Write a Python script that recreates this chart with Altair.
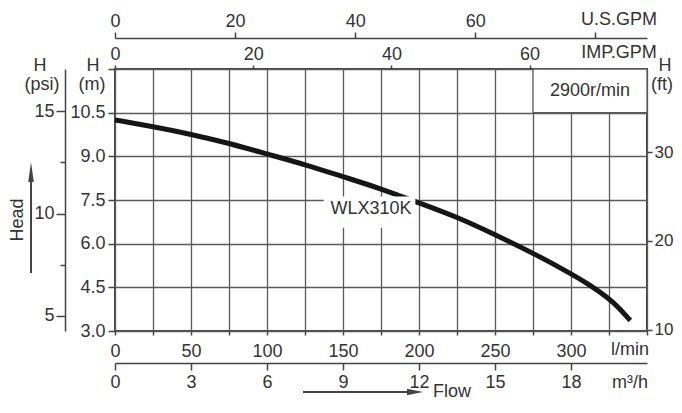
import altair as alt
import pandas as pd

# ---- data ----
flow_lpm = [0, 25, 50, 75, 100, 125, 150, 175, 200, 225, 250, 275, 300, 312.5, 325, 331.4, 339]
head_m = [10.25, 10.02, 9.76, 9.45, 9.08, 8.72, 8.30, 7.89, 7.40, 6.92, 6.31, 5.68, 4.97, 4.58, 4.12, 3.80, 3.36]

lpm_ticks = list(range(0, 351, 25))
head_m_ticks = [3.0, 4.5, 6.0, 7.5, 9.0, 10.5, 12.0]
head_ft_ticks = [10, 20, 30]
head_psi_major = [5, 10, 15]
head_psi_minor = [7.5, 12.5]
imp_gpm_ticks = [0, 20, 40, 60]
us_gpm_ticks = [0, 20, 40, 60, 80]
m3h_ticks = [0, 3, 6, 9, 12, 15, 18]

speed_text = ["2900r/min"]
speed_box_x = [275]
speed_box_x2 = [350]
speed_box_y = [10.5]
speed_box_y2 = [12.0]
speed_text_x = [312.5]
speed_text_y = [11.25]

model_text = ["WLX310K"]
model_box_x = [137.3]
model_box_x2 = [197.6]
model_box_y = [6.55]
model_box_y2 = [7.62]
model_text_x = [168.4]
model_text_y = [7.19]

FLOW_MAX = 350.0
H_MIN, H_MAX = 3.0, 12.0
M_TO_FT = 1 / 0.3048
M_TO_PSI = 1.4223
LPM_PER_IMP = 4.546
LPM_PER_US = 3.95
LPM_PER_M3H = 1000 / 60

W, H = 532, 262
FONT = "Liberation Sans"
TXT = "#333333"
LINE = "#444444"
GRID = "#5a5a5a"
FS = 18

xs = alt.Scale(domain=[0, FLOW_MAX], nice=False, zero=False)
ys = alt.Scale(domain=[H_MIN, H_MAX], nice=False, zero=False)

grid_x_axis = alt.Axis(values=lpm_ticks, grid=True, domain=False, tickSize=4, labelPadding=7,
                       labelFlush=False, labelOverlap=False, title=None,
                       labelExpr="(datum.value % 50 == 0 && datum.value <= 300) ? datum.label : ''")
grid_y_axis = alt.Axis(values=head_m_ticks, grid=True, domain=False, tickSize=7, labelPadding=3,
                       labelOverlap=False, title=None,
                       labelExpr="datum.value > 11 ? '' : format(datum.value, '.1f')")


def X(field):
    return alt.X(field, type="quantitative", scale=xs, axis=grid_x_axis)


def Y(field):
    return alt.Y(field, type="quantitative", scale=ys, axis=grid_y_axis)


curve_df = pd.DataFrame({"q": flow_lpm, "h": head_m})
curve = alt.Chart(curve_df).mark_line(color="#161616", strokeWidth=5, interpolate="basis").encode(
    x=X("q"), y=Y("h"))

speed_df = pd.DataFrame({"x": speed_box_x, "x2": speed_box_x2, "y": speed_box_y, "y2": speed_box_y2,
                         "tx": speed_text_x, "ty": speed_text_y, "t": speed_text})
speed_box = alt.Chart(speed_df).mark_rect(fill="white", stroke=GRID, strokeWidth=1.3).encode(
    x=X("x"), x2="x2", y=Y("y"), y2="y2")
speed_lbl = alt.Chart(speed_df).mark_text(font=FONT, fontSize=FS, color=TXT).encode(
    x=X("tx"), y=Y("ty"), text="t:N")

model_df = pd.DataFrame({"x": model_box_x, "x2": model_box_x2, "y": model_box_y, "y2": model_box_y2,
                         "tx": model_text_x, "ty": model_text_y, "t": model_text})
model_box = alt.Chart(model_df).mark_rect(fill="white").encode(
    x=X("x"), x2="x2", y=Y("y"), y2="y2")
model_lbl = alt.Chart(model_df).mark_text(font=FONT, fontSize=FS, color=TXT).encode(
    x=X("tx"), y=Y("ty"), text="t:N")

main = alt.layer(curve, speed_box, model_box, model_lbl, speed_lbl)


def x_axis_layer(vals, dmax, axis):
    return alt.Chart(pd.DataFrame({"v": vals})).mark_point(opacity=0).encode(
        x=alt.X("v:Q", scale=alt.Scale(domain=[0, dmax], nice=False, zero=False), axis=axis))


def y_axis_layer(vals, dmin, dmax, axis):
    return alt.Chart(pd.DataFrame({"v": vals})).mark_point(opacity=0).encode(
        y=alt.Y("v:Q", scale=alt.Scale(domain=[dmin, dmax], nice=False, zero=False), axis=axis))


ft_layer = y_axis_layer(head_ft_ticks, H_MIN * M_TO_FT, H_MAX * M_TO_FT,
                        alt.Axis(orient="right", values=head_ft_ticks, domain=False, grid=False,
                                 tickSize=5, labelPadding=2, labelFontSize=17, title=None,
                                 labelOverlap=False))
psi_layer = y_axis_layer(head_psi_major, H_MIN * M_TO_PSI, H_MAX * M_TO_PSI,
                         alt.Axis(orient="left", offset=50, values=head_psi_major, domain=True, grid=False,
                                  tickSize=9, labelPadding=2, title=None, labelOverlap=False))
psi_minor = y_axis_layer(head_psi_minor, H_MIN * M_TO_PSI, H_MAX * M_TO_PSI,
                         alt.Axis(orient="left", offset=50, values=head_psi_minor, domain=False, grid=False,
                                  tickSize=5, labels=False, title=None))
imp_layer = x_axis_layer(imp_gpm_ticks, FLOW_MAX / LPM_PER_IMP,
                         alt.Axis(orient="top", values=imp_gpm_ticks, domain=False, grid=False,
                                  tickSize=4, labelPadding=2, title=None, labelFlush=False, labelOverlap=False))
us_layer = x_axis_layer(us_gpm_ticks, FLOW_MAX / LPM_PER_US,
                        alt.Axis(orient="top", offset=31, values=us_gpm_ticks, domain=True, grid=False,
                                 tickSize=6, labelPadding=2, title=None, labelFlush=False, labelOverlap=False,
                                 labelExpr="datum.value >= 80 ? '' : datum.label"))
m3h_layer = x_axis_layer(m3h_ticks, FLOW_MAX / LPM_PER_M3H,
                         alt.Axis(orient="bottom", offset=32, values=m3h_ticks, domain=True, grid=False,
                                  tickSize=7, labelPadding=3, title=None, labelFlush=False, labelOverlap=False))


def label(txt, x, y, align="center", angle=0):
    return alt.Chart(pd.DataFrame({"t": [txt]})).mark_text(
        font=FONT, fontSize=FS, color=TXT, align=align, baseline="middle", angle=angle
    ).encode(x=alt.value(x), y=alt.value(y), text="t:N")


texts = [
    label("H", -75, -3), label("(psi)", -73, 16),
    label("H", -22, -3), label("(m)", -23, 16),
    label("H", 550, -3), label("(ft)", 547, 16),
    label("U.S.GPM", 504, -49), label("IMP.GPM", 504, -16),
    label("l/min", 515, 281), label("m³/h", 515, 314),
    label("Flow", 318, 323, align="left"),
    label("Head", -97, 151, angle=270),
]

one = pd.DataFrame({"a": [0]})
head_shaft = alt.Chart(one).mark_rule(color=LINE, strokeWidth=2).encode(
    x=alt.value(-84), y=alt.value(110), y2=alt.value(204))
head_tip = alt.Chart(one).mark_point(shape="M0,-1L0.28,1L-0.28,1Z", filled=True, size=400,
                                     color=LINE, opacity=1).encode(x=alt.value(-84), y=alt.value(103))
flow_shaft = alt.Chart(one).mark_rule(color=LINE, strokeWidth=2).encode(
    x=alt.value(188), x2=alt.value(296), y=alt.value(323))
flow_tip = alt.Chart(one).mark_point(shape="M1,0L-1,-0.4L-1,0.4Z", filled=True, size=256,
                                     color=LINE, opacity=1).encode(x=alt.value(300), y=alt.value(323))

chart = alt.layer(
    main, ft_layer, psi_layer, psi_minor, imp_layer, us_layer, m3h_layer,
    head_shaft, head_tip, flow_shaft, flow_tip, *texts
).resolve_scale(x="independent", y="independent").properties(
    width=W, height=H,
    padding={"left": 107, "top": 61, "right": 27, "bottom": 70},
    autosize=alt.AutoSizeParams(type="none"),
    background="white",
).configure_view(stroke=LINE, strokeWidth=2).configure_axis(
    labelFont=FONT, labelFontSize=FS, labelColor=TXT,
    tickColor=LINE, tickWidth=1.5, domainColor=LINE, domainWidth=1.5,
    gridColor=GRID, gridWidth=1.3, gridOpacity=1,
)

chart.save("out.html", embed_options={"renderer": "svg", "actions": False})
